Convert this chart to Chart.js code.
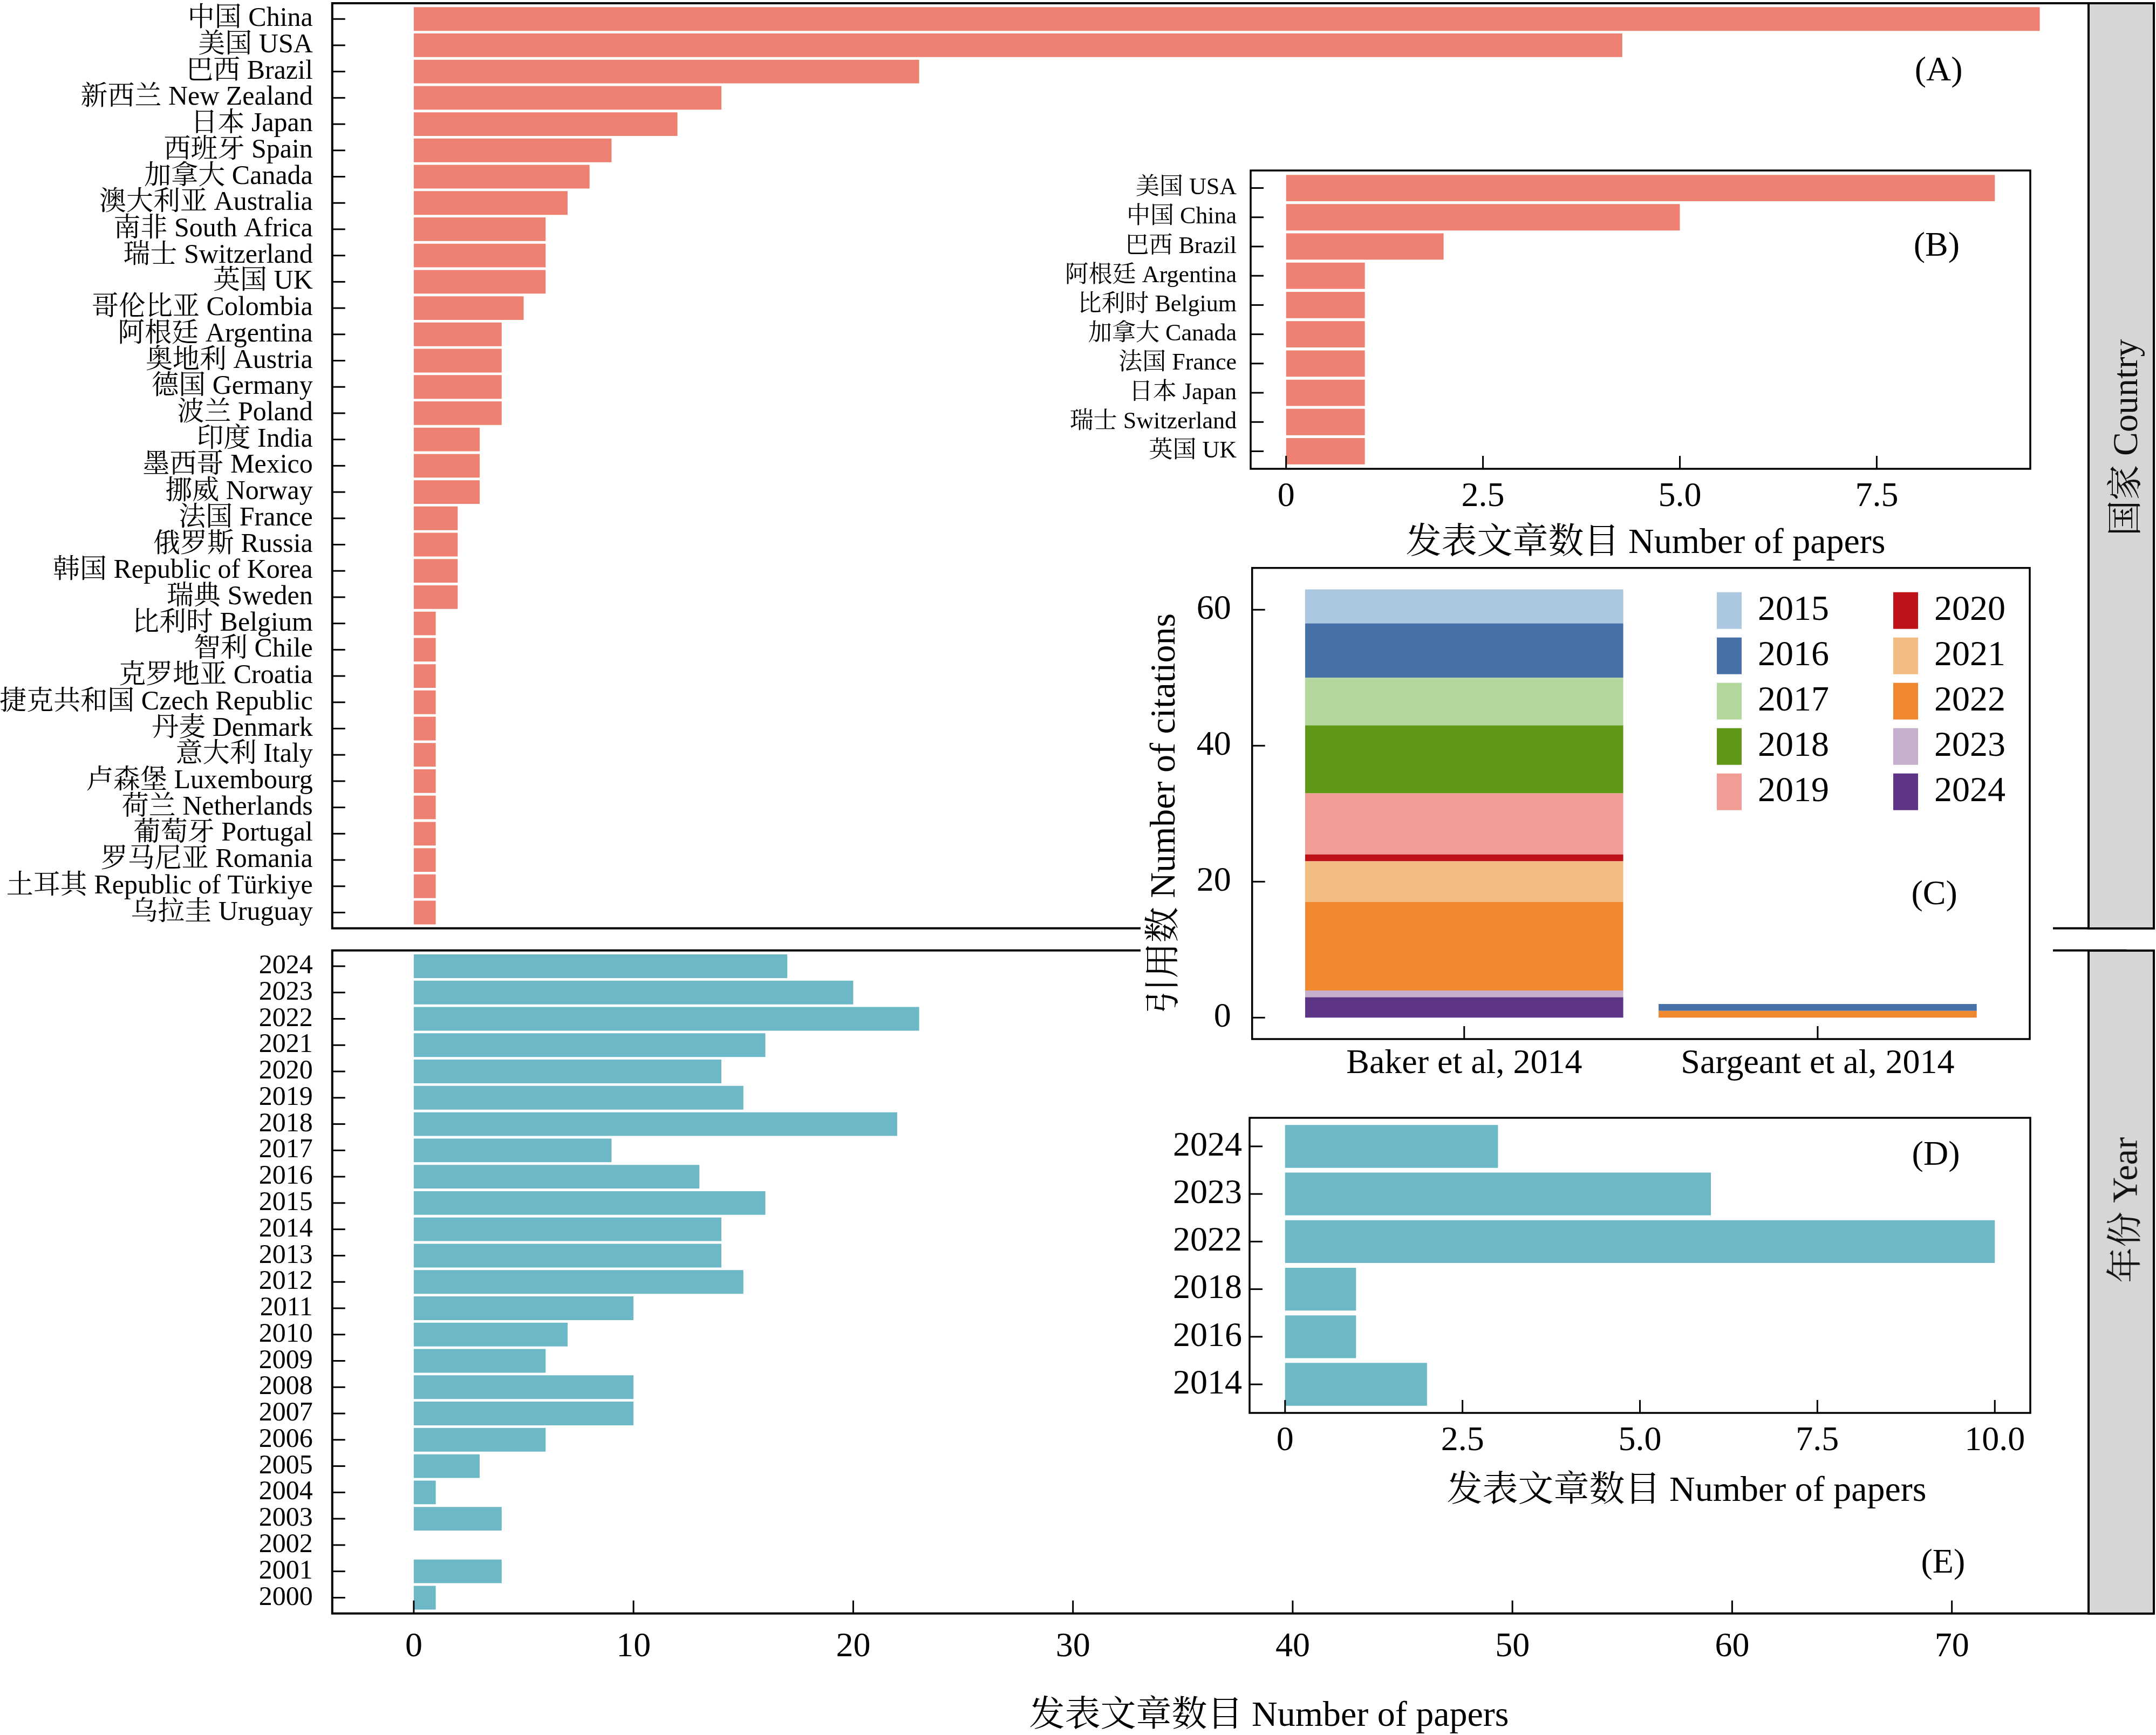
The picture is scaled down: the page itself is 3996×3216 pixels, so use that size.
<!DOCTYPE html>
<html>
<head>
<meta charset="utf-8">
<script src="https://cdn.jsdelivr.net/npm/chart.js@4.4.1/dist/chart.umd.min.js"></script>
<style>
  html, body { margin: 0; padding: 0; background: #fff; }
  #page { position: relative; width: 3996px; height: 3216px; overflow: hidden; background: #fff; }
  canvas { position: absolute; }
  .inset { background: #fff; }
  .strip { position: absolute; box-sizing: border-box; border: 4px solid #000; background: #d6d5d8; }
  .strip span { position: absolute; left: 50%; white-space: nowrap; transform: translate(-50%, -50%) rotate(-90deg);
    font: 66px "Liberation Serif", "Noto Serif CJK SC", "Noto Sans CJK SC", serif; color: #111; }
</style>
</head>
<body>
<div id="page">
  <canvas id="cA" width="3996" height="1730" style="left:0;top:0"></canvas>
  <canvas id="cE" width="3996" height="1476" style="left:0;top:1740px"></canvas>
  <canvas id="cC" class="inset" width="1691" height="968" style="left:2114px;top:1042px"></canvas>
  <canvas id="cB" class="inset" width="1840" height="750" style="left:1960px;top:290px"></canvas>
  <canvas id="cD" class="inset" width="1660" height="755" style="left:2140px;top:2045px"></canvas>
  <div class="strip" style="left:3869px;top:4px;width:125px;height:1719px"><span style="top:803px">国家 Country</span></div>
  <div class="strip" style="left:3869px;top:1760px;width:125px;height:1233px"><span style="top:479px">年份 Year</span></div>
</div>
<script>
// (A) papers per country
const countries = ['中国 China', '美国 USA', '巴西 Brazil', '新西兰 New Zealand', '日本 Japan', '西班牙 Spain',
  '加拿大 Canada', '澳大利亚 Australia', '南非 South Africa', '瑞士 Switzerland', '英国 UK', '哥伦比亚 Colombia',
  '阿根廷 Argentina', '奥地利 Austria', '德国 Germany', '波兰 Poland', '印度 India', '墨西哥 Mexico', '挪威 Norway',
  '法国 France', '俄罗斯 Russia', '韩国 Republic of Korea', '瑞典 Sweden', '比利时 Belgium', '智利 Chile',
  '克罗地亚 Croatia', '捷克共和国 Czech Republic', '丹麦 Denmark', '意大利 Italy', '卢森堡 Luxembourg',
  '荷兰 Netherlands', '葡萄牙 Portugal', '罗马尼亚 Romania', '土耳其 Republic of Türkiye', '乌拉圭 Uruguay'];
const countryPapers = [74, 55, 23, 14, 12, 9, 8, 7, 6, 6, 6, 5, 4, 4, 4, 4, 3, 3, 3, 2, 2, 2, 2,
  1, 1, 1, 1, 1, 1, 1, 1, 1, 1, 1, 1];

// (E) papers per year
const years = ['2024', '2023', '2022', '2021', '2020', '2019', '2018', '2017', '2016', '2015', '2014', '2013',
  '2012', '2011', '2010', '2009', '2008', '2007', '2006', '2005', '2004', '2003', '2002', '2001', '2000'];
const yearPapers = [17, 20, 23, 16, 14, 15, 22, 9, 13, 16, 14, 14, 15, 10, 7, 6, 10, 10, 6, 3, 1, 4, 0, 4, 1];

// (B) citing papers per country
const citingCountries = ['美国 USA', '中国 China', '巴西 Brazil', '阿根廷 Argentina', '比利时 Belgium',
  '加拿大 Canada', '法国 France', '日本 Japan', '瑞士 Switzerland', '英国 UK'];
const citingCountryPapers = [9, 5, 2, 1, 1, 1, 1, 1, 1, 1];

// (D) citing papers per year
const citingYears = ['2024', '2023', '2022', '2018', '2016', '2014'];
const citingYearPapers = [3, 6, 10, 1, 1, 2];

// (C) citations of the two papers by year
const citedPapers = ['Baker et al, 2014', 'Sargeant et al, 2014'];
const citationYears = ['2015', '2016', '2017', '2018', '2019', '2020', '2021', '2022', '2023', '2024'];
const bakerCitations = [5, 8, 7, 10, 9, 1, 6, 13, 1, 3];
const sargeantCitations = [0, 1, 0, 0, 0, 0, 0, 1, 0, 0];
const yearColors = ['#abc8e0', '#4771a8', '#b4d79e', '#609818', '#f29c96', '#be1118', '#f2bc82', '#ef882e', '#c4afcc', '#5e3486'];

// tick labels
const mainTicks = [0, 10, 20, 30, 40, 50, 60, 70];
const insetBTicks = [0, 2.5, 5, 7.5];
const insetDTicks = [0, 2.5, 5, 7.5, 10];
const citationTicks = [0, 20, 40, 60];

const SERIF = '"Liberation Serif", "Noto Serif CJK SC", "Noto Sans CJK SC", serif';
Chart.defaults.font.family = SERIF;
Chart.defaults.color = '#000';

const SALMON = '#ee8072';
const TEAL = '#6cb8c6';

// box + inward ticks, like the ggplot theme
const framePlugin = {
  id: 'frame',
  afterDatasetsDraw(chart, args, o) {
    const ctx = chart.ctx, a = chart.chartArea;
    ctx.save();
    ctx.strokeStyle = '#000';
    ctx.lineWidth = o.tickWidth || 3;
    ['x', 'y'].forEach(id => {
      const s = chart.scales[id];
      if (!o[id + 'Ticks']) return;
      s.ticks.forEach(t => {
        const p = s.getPixelForValue(t.value);
        ctx.beginPath();
        if (s.isHorizontal()) { ctx.moveTo(p, a.bottom); ctx.lineTo(p, a.bottom - o.tickLen); }
        else { ctx.moveTo(a.left, p); ctx.lineTo(a.left + o.tickLen, p); }
        ctx.stroke();
      });
    });
    ctx.lineWidth = o.width || 4;
    ctx.strokeRect(a.left, a.top, a.right - a.left, a.bottom - a.top);
    ctx.restore();
  }
};

// free text: panel letters in data units, axis titles in canvas pixels
const textPlugin = {
  id: 'texts',
  afterDraw(chart, args, o) {
    const ctx = chart.ctx;
    (o.items || []).forEach(it => {
      let x = it.x, y = it.y;
      if (it.vx !== undefined) {
        x = chart.scales.x.getPixelForValue(it.vx);
        y = chart.scales.y.getPixelForValue(it.vy);
      }
      ctx.save();
      ctx.font = it.size + 'px ' + SERIF;
      ctx.fillStyle = '#000';
      ctx.textAlign = 'center';
      ctx.textBaseline = 'middle';
      ctx.translate(x, y);
      if (it.rot) ctx.rotate(it.rot);
      ctx.fillText(it.text, 0, 0);
      ctx.restore();
    });
  }
};

// two-column legend (column-major)
const legendPlugin = {
  id: 'gridLegend',
  afterDraw(chart, args, o) {
    if (!o.items) return;
    const ctx = chart.ctx;
    ctx.save();
    o.items.forEach((lab, i) => {
      const col = Math.floor(i / o.rows), row = i % o.rows;
      const ds = chart.data.datasets.find(d => d.label === lab);
      const x = o.x + col * o.colGap, y = o.y + row * o.rowGap;
      ctx.fillStyle = ds.backgroundColor;
      ctx.fillRect(x, y, o.boxW, o.boxH);
      ctx.fillStyle = '#000';
      ctx.font = o.size + 'px ' + SERIF;
      ctx.textAlign = 'left';
      ctx.textBaseline = 'middle';
      ctx.fillText(lab, x + o.textGap, y + o.boxH / 2);
    });
    ctx.restore();
  }
};

function catAxis(labels, size, padding, width) {
  return {
    type: 'linear', reverse: true, offset: false, min: -0.6, max: labels.length - 0.4,
    grid: { display: false, drawTicks: false }, border: { display: false },
    afterBuildTicks: s => { s.ticks = labels.map((_, i) => ({ value: i })); },
    afterFit: s => { s.width = width; s.paddingTop = 0; s.paddingBottom = 0; },
    ticks: { autoSkip: false, padding: padding, font: { size: size, lineHeight: 1 }, callback: v => labels[v] }
  };
}

function valAxis(min, max, vals, fmt, size, padding, height, show) {
  return {
    type: 'linear', offset: false, min: min, max: max, display: show,
    grid: { display: false, drawTicks: false }, border: { display: false },
    afterBuildTicks: s => { s.ticks = vals.map(v => ({ value: v })); },
    afterFit: s => { s.height = height; s.paddingLeft = 0; s.paddingRight = 0; },
    ticks: { autoSkip: false, maxRotation: 0, padding: padding, font: { size: size, lineHeight: 1 }, callback: fmt }
  };
}

function baseOptions(pad) {
  return {
    responsive: false, animation: false, devicePixelRatio: 1, events: [],
    indexAxis: 'y',
    layout: { padding: pad },
    plugins: { legend: { display: false }, tooltip: { enabled: false } }
  };
}

function hbar(values, color) {
  return [{ data: values.map((v, i) => ({ x: v, y: i })), backgroundColor: color,
    borderWidth: 0, barPercentage: 0.9, categoryPercentage: 1 }];
}

// (A)
const optA = baseOptions({ left: 0, top: 6, right: 56.6, bottom: 9.3 });
optA.scales = { x: valAxis(-3.71, 77.9, mainTicks, v => String(v), 64, 26, 0, false),
  y: catAxis(countries, 50, 36, 615.8) };
optA.plugins.frame = { yTicks: true, xTicks: false, tickLen: 24, tickWidth: 3, width: 4 };
optA.plugins.texts = { items: [{ text: '(A)', vx: 69.4, vy: 2, size: 64 }] };
new Chart(document.getElementById('cA'), {
  type: 'bar', data: { datasets: hbar(countryPapers, SALMON) }, options: optA, plugins: [framePlugin, textPlugin]
});

// (E)
const optE = baseOptions({ left: 0, top: 21.7, right: 56.6, bottom: 0 });
optE.scales = { x: valAxis(-3.71, 77.9, mainTicks, v => String(v), 64, 30, 225.3, true),
  y: catAxis(years, 50, 36, 615.8) };
optE.plugins.frame = { yTicks: true, xTicks: true, tickLen: 24, tickWidth: 3, width: 4 };
optE.plugins.texts = { items: [
  { text: '(E)', vx: 69.6, vy: 22.7, size: 64 },
  { text: '发表文章数目 Number of papers', x: 2352, y: 1442, size: 66 }
] };
new Chart(document.getElementById('cE'), {
  type: 'bar', data: { datasets: hbar(yearPapers, TEAL) }, options: optE, plugins: [framePlugin, textPlugin]
});

// (B)
const optB = baseOptions({ left: 0, top: 26, right: 37, bottom: 0 });
optB.scales = { x: valAxis(-0.45, 9.45, insetBTicks, v => (v === 0 ? '0' : v.toFixed(1)), 64, 20, 171, true),
  y: catAxis(citingCountries, 44, 26, 358) };
optB.plugins.frame = { yTicks: true, xTicks: true, tickLen: 24, tickWidth: 3, width: 3.5 };
optB.plugins.texts = { items: [
  { text: '(B)', vx: 8.26, vy: 2, size: 64 },
  { text: '发表文章数目 Number of papers', x: 1090, y: 718, size: 66 }
] };
new Chart(document.getElementById('cB'), {
  type: 'bar', data: { datasets: hbar(citingCountryPapers, SALMON) }, options: optB, plugins: [framePlugin, textPlugin]
});

// (D)
const optD = baseOptions({ left: 0, top: 27, right: 37, bottom: 0 });
optD.scales = { x: valAxis(-0.5, 10.5, insetDTicks, v => (v === 0 ? '0' : v.toFixed(1)), 64, 20, 181, true),
  y: catAxis(citingYears, 64, 14, 176) };
optD.plugins.frame = { yTicks: true, xTicks: true, tickLen: 24, tickWidth: 3, width: 3.5 };
optD.plugins.texts = { items: [
  { text: '(D)', vx: 9.17, vy: 0.2, size: 64 },
  { text: '发表文章数目 Number of papers', x: 986, y: 720, size: 66 }
] };
new Chart(document.getElementById('cD'), {
  type: 'bar', data: { datasets: hbar(citingYearPapers, TEAL) }, options: optD, plugins: [framePlugin, textPlugin]
});

// (C) stacked citations, 2024 at the bottom
const cDatasets = citationYears.map((y, k) => ({
  label: y,
  data: [{ x: 0, y: bakerCitations[k] }, { x: 1, y: sargeantCitations[k] }],
  backgroundColor: yearColors[k], borderWidth: 0, barPercentage: 0.9, categoryPercentage: 1
})).reverse();
const optC = baseOptions({ left: 0, top: 10.7, right: 43, bottom: 0 });
optC.indexAxis = 'x';
optC.scales = {
  x: Object.assign(valAxis(-0.6, 1.6, [0, 1], v => citedPapers[v], 64, 14, 84, true), { stacked: true }),
  y: {
    type: 'linear', stacked: true, min: -3.15, max: 66.15,
    grid: { display: false, drawTicks: false }, border: { display: false },
    afterBuildTicks: s => { s.ticks = citationTicks.map(v => ({ value: v })); },
    afterFit: s => { s.width = 206.7; s.paddingTop = 0; s.paddingBottom = 0; },
    ticks: { autoSkip: false, padding: 39, font: { size: 64, lineHeight: 1 } }
  }
};
optC.plugins.frame = { yTicks: true, xTicks: true, tickLen: 24, tickWidth: 3, width: 3.5 };
optC.plugins.texts = { items: [
  { text: '(C)', vx: 1.33, vy: 18, size: 64 },
  { text: '引用数 Number of citations', x: 46, y: 466, size: 66, rot: -Math.PI / 2 }
] };
optC.plugins.gridLegend = { items: citationYears, rows: 5, x: 1068, y: 55.7, colGap: 327, rowGap: 84,
  boxW: 46, boxH: 68, textGap: 76, size: 66 };
new Chart(document.getElementById('cC'), {
  type: 'bar', data: { datasets: cDatasets }, options: optC, plugins: [framePlugin, textPlugin, legendPlugin]
});
</script>
</body>
</html>
